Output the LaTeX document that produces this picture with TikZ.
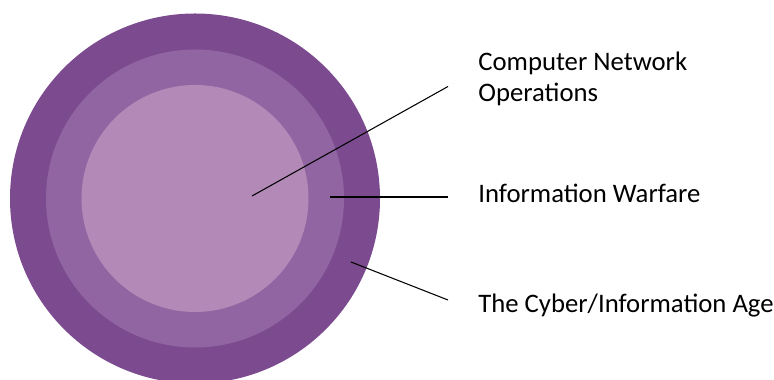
\documentclass[tikz,border=0pt]{standalone}
\usepackage{fontspec}
\setmainfont{Carlito}
\usepackage{tikz}
\definecolor{ringout}{RGB}{123,74,143}
\definecolor{ringmid}{RGB}{145,101,161}
\definecolor{ringin}{RGB}{179,137,184}

\begin{document}
\begin{tikzpicture}[ring/.style={circle,inner sep=0pt},
 label/.style={anchor=base west,inner sep=0pt,align=left,font=\fontsize{15.2}{18.2}\selectfont},
 pointer/.style={draw=black,line width=0.6pt}]
\useasboundingbox (0,0) rectangle (15.48,7.6);
\node[ring,fill=ringout,minimum size=7.4cm] (outer) at (3.9,3.63) {};
\node[ring,fill=ringmid,minimum size=5.96cm] (middle) at (3.9,3.63) {};
\node[ring,fill=ringin,minimum size=4.54cm] (inner) at (3.9,3.63) {};
\node[label] (cno) at (9.56,5.56) {Computer Network\\Operations};
\node[label] (iw) at (9.56,3.54) {Information Warfare};
\node[label] (age) at (9.56,1.34) {The Cyber/Information Age};
\coordinate (pin) at (5.04,3.68);
\coordinate (pmid) at (6.6,3.66);
\coordinate (pout) at (7.02,2.36);
\coordinate (ecno) at (8.96,5.87);
\coordinate (eiw) at (8.96,3.66);
\coordinate (eage) at (8.96,1.6);
\draw[pointer] (pin) -- (ecno);
\draw[pointer] (pmid) -- (eiw);
\draw[pointer] (pout) -- (eage);
\end{tikzpicture}
\end{document}
